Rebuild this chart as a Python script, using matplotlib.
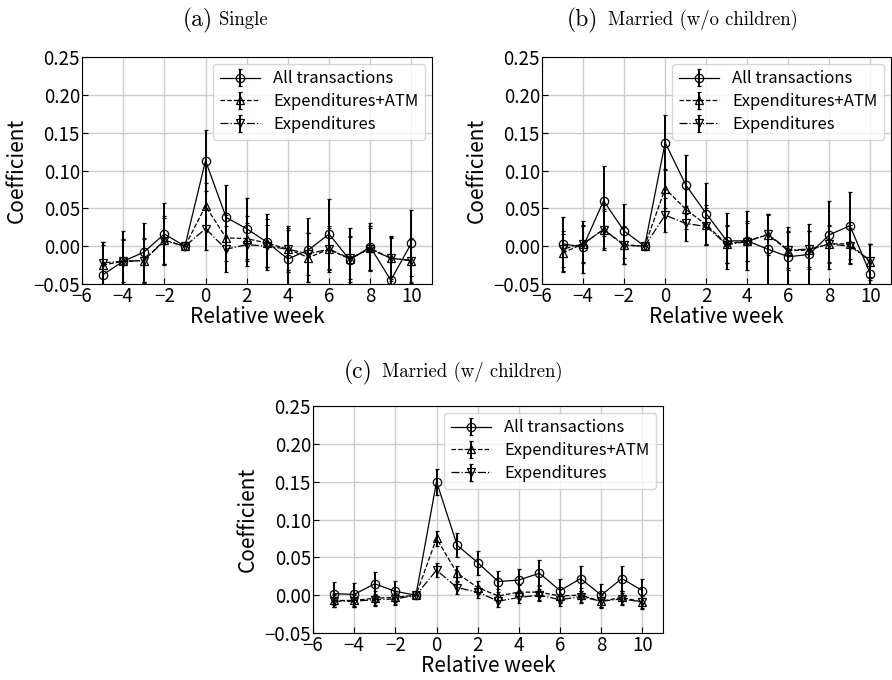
import matplotlib.pyplot as plt

weeks = list(range(-5, 11))

# (a) Single
a_all = [-0.038, -0.020, -0.008, 0.016, 0.0, 0.113, 0.038, 0.023, 0.005, -0.017, -0.005, 0.016, -0.018, -0.001, -0.045, 0.004]
a_all_err = [0.040, 0.040, 0.039, 0.041, 0.0, 0.040, 0.043, 0.040, 0.037, 0.039, 0.042, 0.046, 0.042, 0.031, 0.056, 0.044]
a_atm = [-0.025, -0.020, -0.019, 0.008, 0.0, 0.053, 0.011, 0.010, 0.004, -0.004, -0.015, -0.004, -0.017, -0.003, -0.016, -0.019]
a_atm_err = [0.030, 0.030, 0.030, 0.032, 0.0, 0.030, 0.030, 0.030, 0.032, 0.030, 0.032, 0.030, 0.030, 0.030, 0.030, 0.030]
a_exp = [-0.022, -0.020, -0.019, 0.007, 0.0, 0.023, -0.004, 0.002, 0.000, -0.004, -0.010, -0.004, -0.016, -0.004, -0.016, -0.019]
a_exp_err = [0.028, 0.028, 0.028, 0.030, 0.0, 0.028, 0.030, 0.028, 0.028, 0.028, 0.028, 0.028, 0.028, 0.028, 0.028, 0.028]

# (b) Married (w/o children)
b_all = [0.003, -0.001, 0.060, 0.020, 0.0, 0.137, 0.081, 0.043, 0.007, 0.007, -0.004, -0.014, -0.011, 0.015, 0.027, -0.037]
b_all_err = [0.036, 0.034, 0.046, 0.036, 0.0, 0.036, 0.039, 0.040, 0.037, 0.039, 0.046, 0.039, 0.040, 0.045, 0.044, 0.040]
b_atm = [-0.009, 0.003, 0.022, 0.002, 0.0, 0.076, 0.049, 0.028, 0.003, 0.007, 0.015, -0.006, -0.005, 0.003, 0.003, -0.021]
b_atm_err = [0.025, 0.025, 0.027, 0.025, 0.0, 0.026, 0.026, 0.026, 0.025, 0.026, 0.027, 0.026, 0.025, 0.025, 0.025, 0.024]
b_exp = [-0.004, 0.003, 0.022, 0.001, 0.0, 0.041, 0.030, 0.026, 0.002, 0.006, 0.016, -0.005, -0.004, 0.003, 0.000, -0.019]
b_exp_err = [0.024, 0.024, 0.025, 0.024, 0.0, 0.022, 0.023, 0.025, 0.024, 0.025, 0.025, 0.024, 0.024, 0.024, 0.024, 0.022]

# (c) Married (w/ children)
c_all = [0.002, 0.001, 0.015, 0.005, 0.0, 0.150, 0.066, 0.043, 0.018, 0.020, 0.029, 0.006, 0.022, 0.000, 0.022, 0.006]
c_all_err = [0.015, 0.015, 0.015, 0.014, 0.0, 0.017, 0.016, 0.016, 0.014, 0.015, 0.017, 0.015, 0.016, 0.015, 0.017, 0.016]
c_atm = [-0.007, -0.007, -0.004, -0.003, 0.0, 0.075, 0.029, 0.010, -0.001, 0.004, 0.004, -0.001, 0.000, -0.008, -0.003, -0.009]
c_atm_err = [0.009, 0.009, 0.009, 0.009, 0.0, 0.010, 0.010, 0.009, 0.009, 0.009, 0.010, 0.009, 0.009, 0.009, 0.009, 0.009]
c_exp = [-0.008, -0.008, -0.006, -0.005, 0.0, 0.033, 0.010, 0.004, -0.008, -0.003, 0.000, -0.006, -0.002, -0.008, -0.005, -0.009]
c_exp_err = [0.008, 0.008, 0.008, 0.008, 0.0, 0.009, 0.008, 0.008, 0.008, 0.008, 0.008, 0.008, 0.008, 0.008, 0.008, 0.008]

series_labels = ["All transactions", "Expenditures+ATM", "Expenditures"]
panel_letters = ["(a)", "(b)", "(c)"]
panel_names = ["Single", "Married (w/o children)", "Married (w/ children)"]

plt.rcParams["font.family"] = ["Noto Sans CJK JP", "DejaVu Sans"]

W, H = 892, 680
fig = plt.figure(figsize=(W / 100, H / 100), dpi=100)


def px_axes(left, top, right, bottom):
    return fig.add_axes([left / W, 1 - bottom / H, (right - left) / W, (bottom - top) / H])


def draw_panel(ax, data):
    styles = [("o", "-"), ("^", "--"), ("v", "-.")]
    for (vals, errs), (mk, ls), lab in zip(data, styles, series_labels):
        ax.errorbar(weeks, vals, yerr=errs, color="black", ecolor="black",
                    marker=mk, markersize=6, markerfacecolor="none",
                    markeredgewidth=0.9, linestyle=ls, linewidth=0.9,
                    elinewidth=1.4, capsize=1.5, label=lab)
    ax.set_xlim(-6, 11)
    ax.set_ylim(-0.05, 0.25)
    ax.set_xticks(range(-6, 11, 2))
    ax.set_yticks([-0.05, 0.0, 0.05, 0.10, 0.15, 0.20, 0.25])
    ax.set_yticklabels(["\u22120.05", "0.00", "0.05", "0.10", "0.15", "0.20", "0.25"])
    ax.set_xticklabels([str(t).replace("-", "\u2212") for t in range(-6, 11, 2)])
    ax.tick_params(direction="in", labelsize=13.5, length=4, pad=1.5)
    ax.grid(True, color="#cccccc", linewidth=1.0)
    ax.set_axisbelow(True)
    ax.set_xlabel("Relative week", fontsize=15, labelpad=-1)
    ax.set_ylabel("Coefficient", fontsize=15, labelpad=4)
    ax.legend(loc="upper right", fontsize=12, framealpha=0.8,
              edgecolor="#cccccc", handlelength=2.4, borderaxespad=0.4,
              labelspacing=0.35)


ax_a = px_axes(82, 57, 432, 284)
draw_panel(ax_a, [(a_all, a_all_err), (a_atm, a_atm_err), (a_exp, a_exp_err)])
ax_b = px_axes(542, 57, 891, 284)
draw_panel(ax_b, [(b_all, b_all_err), (b_atm, b_atm_err), (b_exp, b_exp_err)])
ax_c = px_axes(313, 406, 663, 633)
draw_panel(ax_c, [(c_all, c_all_err), (c_atm, c_atm_err), (c_exp, c_exp_err)])

# panel titles in a serif face
title_pos = [(213, 219, 20), (598, 608, 20), (372, 382, 372)]
for letter, name, (xr, xl, yc) in zip(panel_letters, panel_names, title_pos):
    fig.text(xr / W, 1 - yc / H, letter, family="cmr10", fontsize=17,
             ha="right", va="center")
    fig.text(xl / W, 1 - yc / H, name, family="cmr10", fontsize=13.5,
             ha="left", va="center")

fig.savefig("out.png", dpi=100)
